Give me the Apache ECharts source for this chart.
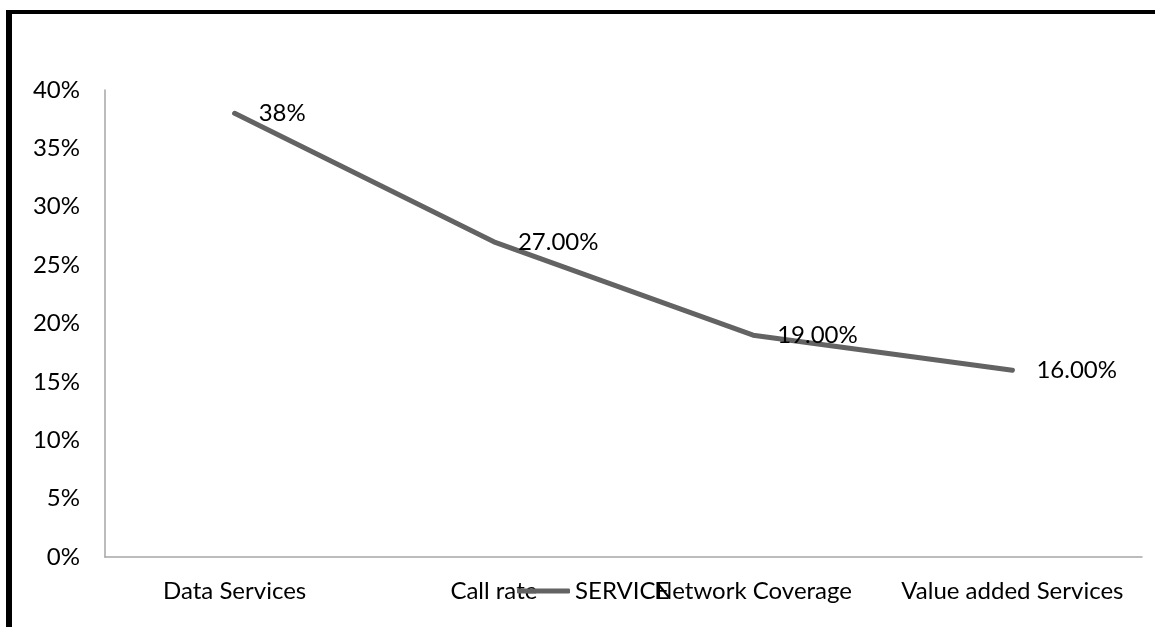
<!DOCTYPE html>
<html>
<head>
<meta charset="utf-8">
<script src="https://cdn.jsdelivr.net/npm/echarts@6/dist/echarts.min.js"></script>
<style>
  html, body { margin: 0; padding: 0; background: #fff; }
  #chart { position: absolute; left: 0; top: 0; width: 1155px; height: 627px; }
  #frame { position: absolute; left: 6px; top: 10px; right: 0; bottom: 0;
           border-left: 6px solid #000; border-top: 4px solid #000; pointer-events: none; }
</style>
</head>
<body>
<div id="chart"></div>
<div id="frame"></div>
<script>
// Share of responses by service aspect
const categories = ['Data Services', 'Call rate', 'Network Coverage', 'Value added Services'];
const seriesName = 'SERVICE';
const values = [0.38, 0.27, 0.19, 0.16];
const labelDecimals = [0, 2, 2, 2];
const yTicks = { min: 0, max: 0.4, interval: 0.05 };

const font = 'Lato, "Open Sans", sans-serif';
const fontSize = 24;
const lineColor = '#636363';
const chart = echarts.init(document.getElementById('chart'));

chart.setOption({
  animation: false,
  textStyle: { fontFamily: font },
  grid: { left: 105, right: 13, top: 90, bottom: 70 },
  legend: {
    top: 574,
    left: 512,
    itemWidth: 53,
    itemHeight: 5,
    itemGap: 5,
    icon: 'roundRect',
    textStyle: { fontFamily: font, fontSize: fontSize, color: '#000' },
    data: [{ name: seriesName, itemStyle: { color: lineColor } }]
  },
  xAxis: {
    type: 'category',
    data: categories,
    boundaryGap: true,
    axisLine: { lineStyle: { color: '#a6a6a6', width: 1.5 } },
    axisTick: { show: false },
    axisLabel: { color: '#000', fontSize: fontSize, fontFamily: font, margin: 22, interval: 0 }
  },
  yAxis: {
    type: 'value',
    min: yTicks.min,
    max: yTicks.max,
    interval: yTicks.interval,
    axisLine: { show: true, lineStyle: { color: '#a6a6a6', width: 1.5 } },
    axisTick: { show: false },
    splitLine: { show: false },
    axisLabel: {
      color: '#000', fontSize: fontSize, fontFamily: font, margin: 25,
      formatter: v => Math.round(v * 100) + '%'
    }
  },
  series: [{
    name: seriesName,
    type: 'line',
    data: values,
    // small dots hidden inside the 5px stroke; they carry the value labels
    symbol: 'circle',
    symbolSize: 4,
    showSymbol: true,
    lineStyle: { color: lineColor, width: 5, cap: 'round', join: 'round' },
    itemStyle: { color: lineColor },
    label: {
      show: true,
      position: 'right',
      distance: 22,
      color: '#000',
      fontSize: fontSize,
      fontFamily: font,
      formatter: p => (p.value * 100).toFixed(labelDecimals[p.dataIndex]) + '%'
    }
  }]
});
</script>
</body>
</html>
